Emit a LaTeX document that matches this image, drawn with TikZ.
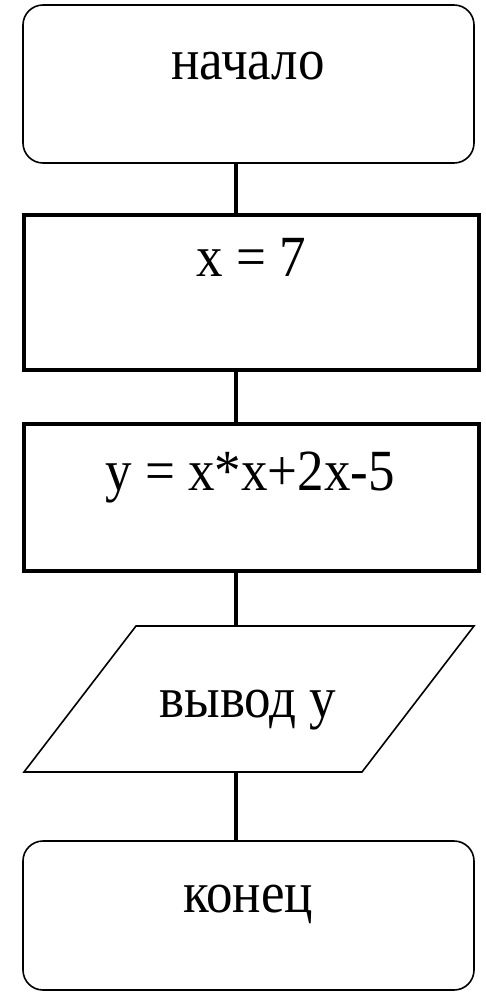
\documentclass[tikz,border=0pt]{standalone}
\usepackage{fontspec}
\usepackage{graphicx}
\setmainfont{Liberation Serif}
\newcommand{\tallt}[1]{\scalebox{1}[1.1]{#1}}
\begin{document}
\begin{tikzpicture}[x=1pt,y=-1pt,
  term/.style={draw, line width=1.6pt, rounded corners=20pt, minimum width=451pt, minimum height=158pt, inner sep=0pt},
  proc/.style={draw, line width=4pt, minimum width=455pt, inner sep=0pt},
  lbl/.style={font=\fontsize{53}{53}\selectfont, inner sep=0pt, anchor=base},
  conn/.style={line width=4pt},
  io/.style={line width=1.6pt, line join=miter}]
\useasboundingbox (0,0) rectangle (485,992);
\coordinate (cx) at (236,0);
% shapes
\node[term] (b1) at (248.5,84) {};
\node[proc, minimum height=155pt] (b2) at (251.5,292.5) {};
\node[proc, minimum height=147pt] (b3) at (251.5,497.5) {};
\coordinate (pTL) at (136,626);
\coordinate (pTR) at (474,626);
\coordinate (pBR) at (362,772);
\coordinate (pBL) at (24,772);
\draw[io] (pTL) -- (pTR) -- (pBR) -- (pBL) -- cycle;
\node[term, minimum height=149pt] (b5) at (248.5,915.5) {};
% texts
\node[lbl] (t1) at (248,80) {\tallt{начало}};
\node[lbl] (t2) at (251,276) {\tallt{x = 7}};
\node[lbl] (t3) at (250,490) {\tallt{y = x*x+2x-5}};
\node[lbl] (t4) at (248,717) {\tallt{вывод у}};
\node[lbl] (t5) at (248,912) {\tallt{конец}};
% connectors
\draw[conn] (b1.south -| cx) -- (b2.north -| cx);
\draw[conn] (b2.south -| cx) -- (b3.north -| cx);
\draw[conn] (b3.south -| cx) -- (pTL -| cx);
\draw[conn] (pBL -| cx) -- (b5.north -| cx);
\end{tikzpicture}
\end{document}
